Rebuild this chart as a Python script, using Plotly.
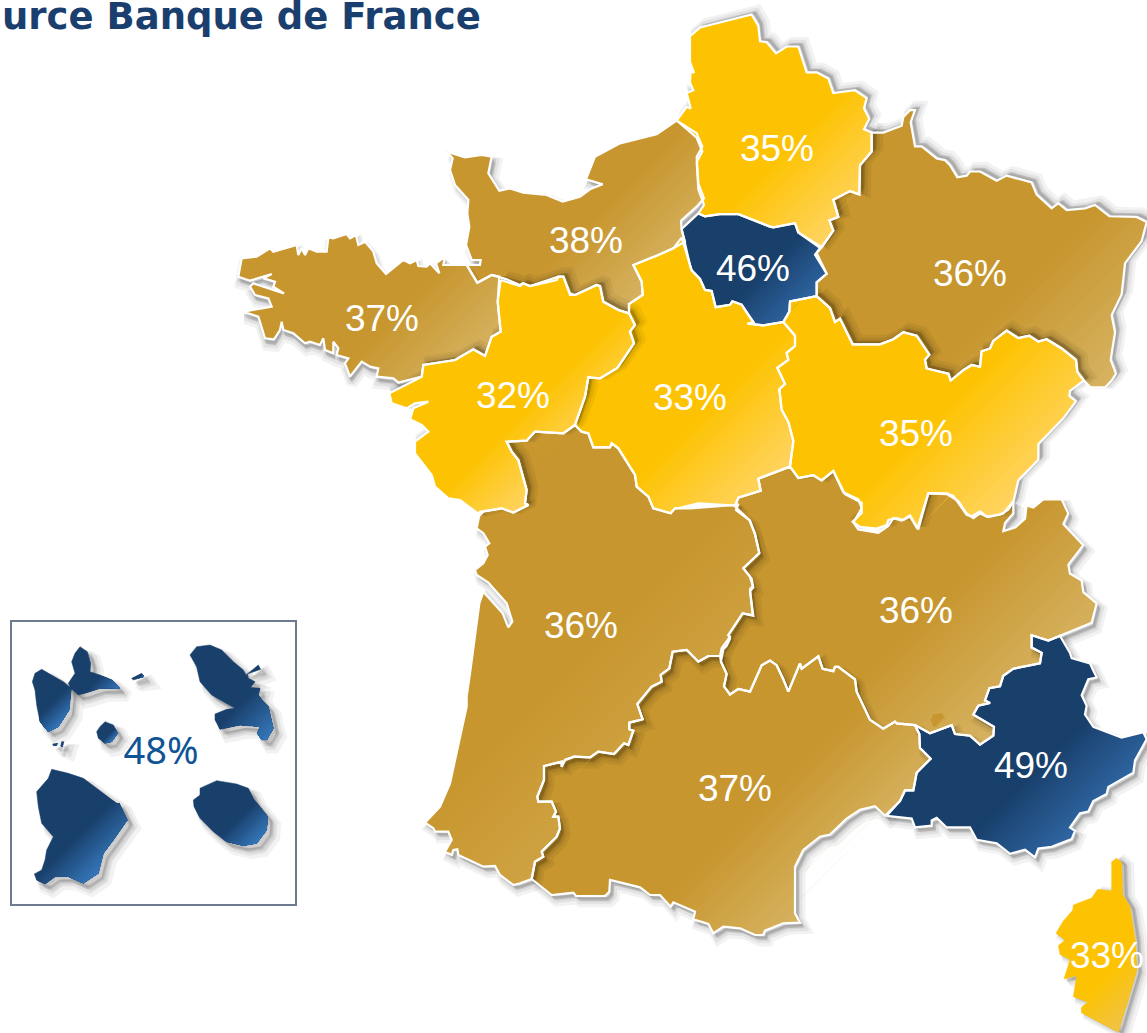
import plotly.graph_objects as go

TITLE_TEXT = "urce Banque de France"
LABEL_TEXTS = ["35%", "38%", "46%", "36%", "37%", "32%", "33%", "35%", "36%", "36%", "49%", "37%", "33%"]
LABEL_X = [777, 586, 753, 970, 382, 513, 690, 916, 581, 916, 1031, 735, 1107]
LABEL_Y = [152, 244, 272, 277, 322, 399, 401, 437, 629, 614, 769, 792, 959]
OVERSEAS_LABEL = "48%"

FRAMES = {
    "Z1": (230, 0, 3, 3),
    "Z2": (670, 0, 3, 2.904),
    "Z3": (420, 500, 3, 3),
    "Z4": (720, 480, 3, 2.835),
    "Z5": (0, 610, 3, 3),
}

HAUTS_DE_FRANCE = [("Z2", [(20,350),(50,310),(62,315),(50,270),(70,262),(60,240),(62,205),(72,212),(60,180),(60,105),(90,80),(245,42),(265,75),(270,120),(290,122),(318,155),(350,135),(385,135),(410,210),(440,210),(475,228),(490,270),(555,262),(590,285),(582,315),(598,345),(582,375),(605,385),(605,440),(570,480),(568,565),(540,555),(490,580),(505,630),(478,640),(490,670),(455,718),(385,675),(375,648),(310,660),(300,658),(205,622),(150,622),(105,628),(85,620),(102,595),(85,550),(80,470),(97,440),(80,400)])]
NORMANDIE = [("Z1", [(650,455),(705,472),(755,465),(785,470),(775,520),(808,572),(840,565),(880,578),(950,585),(998,605),(1050,590),(1080,568),(1118,553),(1068,538),(1095,470),(1170,430),(1280,403),(1340,362),(1400,400),(1417,440),(1400,470),(1405,550),(1422,595),(1400,620),(1353,662),(1355,690),(1365,725),(1330,745),(1285,765),(1210,795),(1235,845),(1238,885),(1197,912),(1197,940),(1165,930),(1120,905),(1110,858),(1100,855),(1035,885),(1020,880),(1000,830),(985,830),(980,840),(900,858),(878,850),(870,855),(830,838),(785,825),(742,848),(710,795),(750,795),(752,780),(725,780),(708,735),(718,680),(712,640),(715,600),(675,555),(660,510),(668,475)])]
BRETAGNE = [("Z1", [(710,795),(640,795),(645,770),(618,790),(628,820),(600,790),(590,800),(565,798),(560,780),(540,790),(520,780),(468,822),(440,790),(430,755),(405,725),(385,735),(378,705),(360,715),(350,702),(310,715),(295,712),(290,755),(260,755),(235,745),(225,765),(215,745),(205,765),(200,735),(130,755),(120,745),(80,770),(35,775),(25,830),(60,842),(125,822),(100,835),(135,845),(130,860),(162,880),(105,860),(70,850),(60,860),(75,885),(115,895),(125,920),(95,925),(40,935),(85,950),(105,1015),(132,1018),(150,990),(155,965),(160,990),(190,1000),(225,1030),(240,1025),(270,1035),(280,1015),(285,1050),(310,1060),(310,1025),(325,1045),(320,1065),(355,1075),(345,1090),(360,1130),(395,1085),(420,1100),(445,1105),(440,1130),(490,1135),(505,1148),(575,1130),(580,1095),(675,1080),(730,1048),(765,1068),(785,1010),(812,995),(803,905),(808,830),(785,825),(742,848)])]
PAYS_DE_LA_LOIRE = [("Z1", [(812,840),(870,858),(880,850),(900,858),(985,830),(1000,830),(1020,885),(1035,885),(1100,855),(1110,858),(1120,905),(1165,930),(1197,940),(1215,975),(1200,995),(1212,1030),(1165,1100),(1160,1105),(1110,1135),(1075,1132),(1065,1190),(1035,1275),(1000,1300),(915,1295),(890,1322),(830,1325),(845,1355),(865,1380),(890,1470),(885,1510),(895,1515),(850,1538),(815,1525),(760,1535),(750,1545),(690,1500),(655,1495),(615,1460),(605,1425),(555,1360),(555,1325),(595,1295),(575,1275),(540,1258),(550,1225),(595,1205),(555,1210),(530,1225),(485,1210),(478,1180),(575,1130),(580,1095),(675,1080),(730,1048),(765,1068),(785,1010),(812,995),(803,905)])]
CENTRE = [
    ("Z2", [(35,690),(60,770),(65,785),(90,810),(105,842),(125,845),(137,892),(180,885),(187,875),(215,885),(235,915),(250,935),(232,940),(255,942),(280,945),(340,935),(375,975),(375,1005),(350,1025),(355,1045),(322,1068),(345,1115),(328,1130),(335,1190),(355,1225),(370,1280),(360,1355),(265,1390),(272,1425),(205,1445),(195,1468),(85,1462),(30,1475)]),
    ("Z1", [(1335,1525),(1322,1540),(1270,1525),(1255,1490),(1220,1460),(1215,1425),(1165,1345),(1145,1330),(1140,1342),(1090,1342),(1075,1300),(1055,1295),(1035,1275),(1065,1190),(1075,1132),(1110,1135),(1160,1105),(1165,1100),(1212,1030),(1200,995),(1215,975),(1197,940),(1197,912),(1238,885),(1235,845),(1210,795),(1285,765),(1330,745)]),
]
GRAND_EST = [("Z2", [(605,385),(640,385),(695,365),(700,340),(720,320),(735,320),(722,355),(735,425),(755,425),(800,460),(825,465),(840,480),(862,515),(890,510),(900,498),(930,498),(980,525),(1010,510),(1085,530),(1100,565),(1145,605),(1165,590),(1190,610),(1245,605),(1275,595),(1318,628),(1400,630),(1430,645),(1415,700),(1365,765),(1355,855),(1325,915),(1335,965),(1322,1045),(1338,1085),(1325,1105),(1305,1125),(1262,1125),(1242,1105),(1222,1080),(1218,1045),(1175,1012),(1130,985),(1105,992),(1078,975),(1045,982),(1010,960),(970,990),(960,1012),(935,1020),(930,1065),(905,1060),(880,1075),(842,1105),(835,1085),(770,1070),(765,1045),(778,1030),(740,975),(700,965),(670,985),(630,1000),(548,1000),(510,925),(495,935),(480,895),(440,860),(440,820),(470,795),(440,735),(455,718),(490,670),(478,640),(505,630),(490,580),(540,555),(568,565),(570,480),(605,440)])]
ILE_DE_FRANCE = [("Z2", [(85,620),(105,628),(150,622),(205,622),(300,658),(310,660),(375,648),(385,675),(450,720),(435,740),(470,795),(440,820),(440,860),(360,875),(358,905),(340,935),(280,945),(255,942),(235,915),(215,885),(187,875),(180,885),(137,892),(125,845),(105,842),(90,810),(65,785),(60,770),(35,665)])]
BOURGOGNE_FC = [("Z2", [(440,860),(480,895),(495,935),(510,925),(548,1000),(630,1000),(670,985),(700,965),(740,975),(778,1030),(765,1045),(770,1070),(835,1085),(842,1105),(880,1075),(905,1060),(930,1065),(935,1020),(960,1012),(970,990),(1010,960),(1045,982),(1078,975),(1105,992),(1130,985),(1175,1012),(1218,1045),(1222,1080),(1242,1105),(1200,1135),(1198,1150),(1218,1165),(1180,1215),(1105,1290),(1105,1335),(1045,1395),(1030,1458),(1015,1480),(990,1495),(950,1500),(930,1485),(905,1500),(890,1495),(850,1440),(830,1433),(775,1432),(742,1535),(720,1500),(700,1510),(680,1505),(655,1510),(650,1525),(620,1535),(570,1530),(548,1515),(575,1490),(575,1460),(525,1435),(490,1368),(455,1395),(430,1380),(385,1388),(360,1355),(370,1280),(355,1225),(335,1190),(328,1130),(345,1115),(322,1068),(355,1045),(350,1025),(375,1005),(375,975),(340,935),(358,905),(360,875)])]
NOUVELLE_AQUITAINE = [
    ("Z1", [(1035,1275),(1000,1300),(915,1295),(890,1322),(830,1325),(845,1355),(865,1380),(890,1470),(885,1510),(895,1515),(850,1538),(815,1525)]),
    ("Z3", [(180,35),(170,85),(190,100),(208,130),(195,140),(203,165),(190,190),(165,210),(170,225),(205,248),(260,310),(277,365),(265,382),(248,340),(190,275),(178,310),(150,520),(140,590),(140,620),(105,780),(90,850),(60,920),(15,968),(40,985),(45,995),(85,995),(95,1020),(75,1055),(95,1065),(100,1050),(112,1048),(115,1065),(190,1100),(225,1098),(240,1125),(280,1155),(300,1150),(335,1137),(345,1085),(370,1070),(365,1055),(410,1010),(420,985),(415,950),(400,950),(408,935),(395,905),(355,905),(352,890),(372,840),(372,798),(425,785),(425,800),(435,780),(462,770),(510,772),(535,755),(582,762),(612,730),(625,735),(640,692),(628,688),(628,668),(668,658),(652,612),(695,560),(725,545),(722,525),(748,505),(758,455),(800,450),(835,485),(865,468),(900,468),(905,445),(930,410),(925,405),(968,340),(998,345),(990,268),(998,258),(990,230),(970,205),(1018,158),(1005,100),(988,60),(948,30),(955,12)]),
    ("Z1", [(1515,1515),(1380,1525),(1335,1525),(1322,1540),(1270,1525),(1255,1490),(1220,1460),(1215,1425),(1165,1345),(1145,1330),(1140,1342),(1090,1342),(1075,1300),(1055,1295)]),
]
OCCITANIE = [
    ("Z3", [(335,1137),(395,1185),(460,1178),(468,1188),(555,1188),(568,1175),(570,1140),(660,1162),(690,1185),(720,1185),(752,1220),(760,1207),(825,1235),(820,1258),(865,1272),(880,1300),(910,1280),(960,1285),(1005,1305),(1030,1305),(1035,1292),(1090,1270),(1140,1268),(1125,1240),(1125,1100),(1150,1050),(1200,1010)]),
    ("Z4", [(330,1005),(380,960),(420,935),(465,925),(495,952),(540,910),(555,880),(580,880),(590,830),(632,790),(600,760),(598,720),(585,695),(530,690),(525,685),(490,705),(450,680),(410,600),(405,565),(355,530),(345,530),(340,542),(308,535),(295,500),(245,535),(240,520),(205,600),(190,565),(170,525),(150,512),(125,525),(90,600),(55,592),(30,608),(12,585),(20,550),(3,515)]),
    ("Z3", [(900,468),(865,468),(835,485),(800,450),(758,455),(748,505),(722,525),(725,545),(695,560),(652,612),(668,658),(628,668),(628,688),(640,692),(625,735),(612,730),(582,762),(535,755),(510,772),(462,770),(435,780),(425,800),(425,785),(372,798),(372,840),(352,890),(355,905),(395,905),(408,935),(400,950),(415,950),(420,985),(410,1010),(365,1055),(370,1070),(345,1085)]),
]
AUVERGNE_RA = [
    ("Z4", [(45,75),(90,115),(105,155),(118,208),(70,250),(95,280),(100,305),(90,315),(100,385),(68,378),(25,440),(30,450),(20,470),(10,480),(3,515),(20,550),(12,585),(30,608),(55,592),(90,600),(125,525),(150,512),(170,525),(190,565),(205,600),(240,520),(245,535),(295,500),(308,535),(340,542),(345,530),(355,530),(405,565),(410,600),(450,680),(490,705),(525,685),(530,690),(585,695),(630,718),(695,695),(705,720),(750,725),(780,750),(820,725),(822,700),(760,665),(775,640),(810,632),(795,625),(808,590),(840,585),(850,555),(880,535),(960,520),(965,490),(935,475),(935,440),(985,455),(1020,442),(1115,405),(1130,350),(1090,318),(1085,285),(1050,265),(1045,240),(1090,185),(1030,125),(1045,95),(1025,55),(970,55),(940,78),(920,72),(915,110),(885,135),(850,145),(855,122),(880,95),(880,60),(850,95),(805,105),(780,95),(760,108),(740,95),(715,60),(680,40),(625,38),(595,140),(570,100),(545,115),(520,108),(505,130),(475,150),(415,140),(400,120),(425,80),(415,55),(370,35)]),
    ("Z2", [(490,1368),(455,1395),(430,1380),(385,1388),(360,1355),(265,1390),(272,1425),(205,1445),(195,1468)]),
]
PACA = [("Z4", [(585,695),(630,718),(695,695),(705,720),(750,725),(780,750),(820,725),(822,700),(760,665),(775,640),(810,632),(795,625),(808,590),(840,585),(850,555),(880,535),(960,520),(965,490),(935,475),(935,440),(985,455),(1020,442),(1050,490),(1055,505),(1110,520),(1130,560),(1105,565),(1085,610),(1100,640),(1095,665),(1120,700),(1205,730),(1270,715),(1280,735),(1245,795),(1240,830),(1165,870),(1160,890),(1120,910),(1105,940),(1080,945),(1050,985),(1065,995),(1055,1018),(995,1040),(955,1045),(945,1070),(915,1048),(870,1060),(830,1030),(770,1020),(750,985),(680,985),(650,958),(635,965),(635,980),(585,985),(575,960),(500,952),(540,910),(555,880),(580,880),(590,830),(632,790),(600,760),(598,720)])]
VAUCLUSE_ENCLAVE = [("Z4", [(632,680),(640,665),(665,662),(678,680),(660,700),(640,698)])]
CORSE = [("Z4", [(1175,1082),(1190,1072),(1205,1085),(1208,1175),(1230,1210),(1245,1300),(1250,1390),(1220,1490),(1215,1500),(1195,1565),(1085,1510),(1085,1495),(1105,1480),(1060,1465),(1070,1405),(1032,1415),(1050,1360),(1020,1345),(1015,1320),(1035,1305),(1008,1285),(1030,1250),(1058,1220),(1060,1205),(1115,1185),(1133,1160),(1175,1165)])]

BASSE_TERRE = [("Z5", [(125,178),(165,200),(190,215),(214,235),(207,300),(175,350),(145,365),(120,335),(110,285),(105,240),(97,215),(105,190)])]
GRANDE_TERRE = [("Z5", [(240,110),(262,125),(272,160),(270,185),(300,195),(335,210),(360,235),(300,235),(255,250),(235,255),(212,235),(205,220),(225,190),(215,155),(225,130)])]
DESIRADE = [("Z5", [(395,205),(425,190),(432,200),(400,210)])]
MARIE_GALANTE = [("Z5", [(300,350),(315,335),(340,345),(353,370),(335,395),(315,400),(295,385),(290,365)])]
SAINTES_A = [("Z5", [(158,402),(172,400),(170,407),(160,407)])]
SAINTES_B = [("Z5", [(185,395),(192,395),(187,410),(182,408)])]
MARTINIQUE = [("Z5", [(570,135),(590,110),(630,105),(665,120),(700,155),(730,180),(738,195),(775,165),(782,178),(742,192),(745,205),(765,215),(752,232),(780,235),(775,255),(790,275),(805,290),(815,340),(820,355),(800,390),(785,390),(772,370),(780,350),(720,345),(660,358),(645,330),(645,312),(680,298),(705,295),(675,278),(635,255),(600,215),(590,170)])]
GUYANE = [("Z5", [(155,478),(205,490),(250,505),(290,535),(320,555),(350,580),(358,580),(382,630),(340,690),(310,730),(295,790),(250,820),(205,800),(165,800),(135,822),(110,810),(103,792),(125,780),(135,750),(140,720),(160,680),(125,640),(115,590),(110,545),(145,505)])]
REUNION = [("Z5", [(610,530),(650,512),(710,522),(745,535),(762,568),(803,620),(800,660),(770,700),(730,707),(680,695),(640,665),(600,625),(582,590),(580,570),(600,555),(600,535)])]

MUSTARD = ((199, 150, 46), (214, 178, 96))
MUSTARD_SOFT = ((199, 150, 46), (207, 162, 66))
GOLD = ((253, 195, 2), (255, 212, 96))
CORSE_GOLD = ((253, 195, 2), (240, 195, 70))
NAVY = ((25, 63, 107), (47, 102, 162))
INSET_NAVY = ((25, 63, 107), (53, 118, 184))

# draw order: outline, colours, white border, shadow direction
SOUTH_EAST = (5, 6)
NORTH_EAST = (6, -4)
INSET_SHADOW = (8, 8)
NONE = (0, 0)
SHAPES = [
    (AUVERGNE_RA, MUSTARD, True, SOUTH_EAST), (OCCITANIE, MUSTARD, True, SOUTH_EAST),
    (NOUVELLE_AQUITAINE, MUSTARD_SOFT, True, SOUTH_EAST),
    (GRAND_EST, MUSTARD, True, NORTH_EAST), (NORMANDIE, MUSTARD, True, SOUTH_EAST), (BRETAGNE, MUSTARD, True, (2, 7)),
    (BOURGOGNE_FC, GOLD, True, NORTH_EAST), (CENTRE, GOLD, True, NONE), (PAYS_DE_LA_LOIRE, GOLD, True, NORTH_EAST),
    (HAUTS_DE_FRANCE, GOLD, True, NORTH_EAST), (ILE_DE_FRANCE, NAVY, True, NONE), (PACA, NAVY, True, SOUTH_EAST),
    (VAUCLUSE_ENCLAVE, MUSTARD, False, NONE), (CORSE, CORSE_GOLD, False, (7, 3)),
    (BASSE_TERRE, INSET_NAVY, False, INSET_SHADOW), (GRANDE_TERRE, INSET_NAVY, False, INSET_SHADOW),
    (DESIRADE, INSET_NAVY, False, INSET_SHADOW), (MARIE_GALANTE, INSET_NAVY, False, INSET_SHADOW),
    (SAINTES_A, INSET_NAVY, False, INSET_SHADOW), (SAINTES_B, INSET_NAVY, False, INSET_SHADOW),
    (MARTINIQUE, INSET_NAVY, False, INSET_SHADOW), (GUYANE, INSET_NAVY, False, INSET_SHADOW),
    (REUNION, INSET_NAVY, False, INSET_SHADOW),
]


def outline(segments):
    pts = []
    for frame, crop_pts in segments:
        ox, oy, sx, sy = FRAMES[frame]
        pts += [(ox + x / sx, oy + y / sy) for x, y in crop_pts]
    return pts


def clip_above(pts, t):
    """Part of a polygon on the lower-right side of the diagonal x + y = t."""
    out = []
    for i, p in enumerate(pts):
        q = pts[(i + 1) % len(pts)]
        a, b = p[0] + p[1] - t, q[0] + q[1] - t
        if a >= 0:
            out.append(p)
        if (a >= 0) != (b >= 0):
            k = a / (a - b)
            out.append((p[0] + k * (q[0] - p[0]), p[1] + k * (q[1] - p[1])))
    return out


def closed_xy(pts, dx=0, dy=0):
    return [p[0] + dx for p in pts] + [pts[0][0] + dx], [p[1] + dy for p in pts] + [pts[0][1] + dy]


def poly(fig, pts, fill, line_color="rgba(0,0,0,0)", line_width=0, dx=0, dy=0):
    x, y = closed_xy(pts, dx, dy)
    fig.add_trace(go.Scatter(x=x, y=y, mode="lines", fill="toself", fillcolor=fill,
                             line=dict(color=line_color, width=line_width),
                             hoverinfo="skip", showlegend=False))


fig = go.Figure()

STEPS = 20
GRADIENT_START = 0.62
for segs, (base, light), _, shadow in SHAPES:
    pts = outline(segs)
    if shadow != NONE:
        for scale, width, alpha in ((1.0, 11, 0.05), (0.8, 7, 0.06), (0.55, 3, 0.09)):
            poly(fig, pts, "rgba(0,0,0,%g)" % alpha, "rgba(0,0,0,%g)" % alpha, width,
                 shadow[0] * scale, shadow[1] * scale)
    rgb = "rgb(%d,%d,%d)" % base
    poly(fig, pts, rgb, rgb, 0.5)
    sums = [p[0] + p[1] for p in pts]
    lo, hi = min(sums), max(sums)
    for k in range(1, STEPS + 1):
        f = k / STEPS
        t = lo + (GRADIENT_START + (1 - GRADIENT_START) * (k - 1) / STEPS) * (hi - lo)
        part = clip_above(pts, t)
        if len(part) >= 3:
            col = "rgb(%d,%d,%d)" % tuple(round(base[i] + f * (light[i] - base[i])) for i in range(3))
            poly(fig, part, col)

for segs, _, bordered, _ in SHAPES:
    if bordered:
        x, y = closed_xy(outline(segs))
        fig.add_trace(go.Scatter(x=x, y=y, mode="lines", line=dict(color="white", width=2.2),
                                 hoverinfo="skip", showlegend=False))

fig.add_trace(go.Scatter(x=LABEL_X, y=LABEL_Y, mode="text", text=LABEL_TEXTS, cliponaxis=False,
                         textfont=dict(family="Liberation Sans", size=37, color="white"),
                         hoverinfo="skip", showlegend=False))
fig.add_trace(go.Scatter(x=[161], y=[754], mode="text", text=[OVERSEAS_LABEL],
                         textfont=dict(family="Noto Sans", size=38, color="#0f5596"),
                         hoverinfo="skip", showlegend=False))
fig.add_trace(go.Scatter(x=[2], y=[20], mode="text", text=[TITLE_TEXT], textposition="middle right",
                         textfont=dict(family="DejaVu Sans", size=37, color="#1a3f6f", weight="bold"),
                         cliponaxis=False, hoverinfo="skip", showlegend=False))

fig.update_layout(
    width=1147, height=1033, margin=dict(l=0, r=0, t=0, b=0),
    paper_bgcolor="white", plot_bgcolor="white", showlegend=False,
    xaxis=dict(range=[0, 1147], visible=False, fixedrange=True),
    yaxis=dict(range=[1033, 0], visible=False, fixedrange=True),
    shapes=[dict(type="rect", x0=11, y0=621, x1=296, y1=905, line=dict(color="#6e7a90", width=2))],
)
fig.write_html("out.html", config={"displayModeBar": False},
               post_script="document.body.style.margin='0';")
